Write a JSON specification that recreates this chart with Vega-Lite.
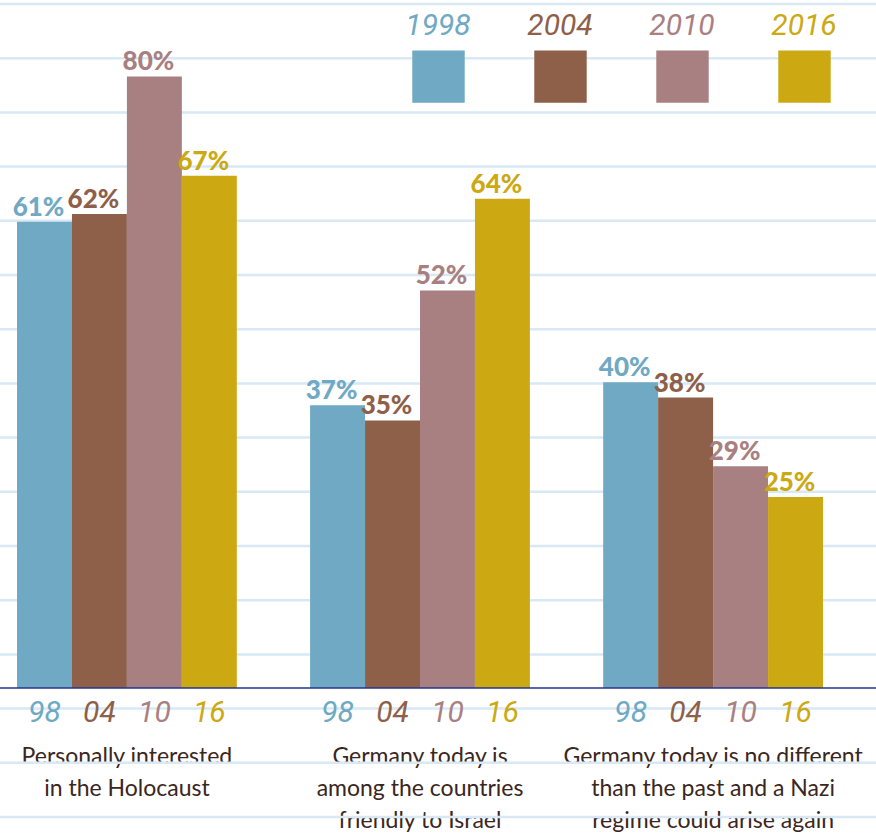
{
  "$schema": "https://vega.github.io/schema/vega-lite/v6.json",
  "width": 876,
  "height": 688,
  "padding": {"left": 0, "right": 0, "top": 0, "bottom": 147},
  "autosize": {"type": "none"},
  "background": "white",
  "config": {"view": {"stroke": null}},
  "datasets": {
    "bars": [
      {"question": "Personally interested|in the Holocaust", "year": "1998", "short": "98", "value": 0.61},
      {"question": "Personally interested|in the Holocaust", "year": "2004", "short": "04", "value": 0.62},
      {"question": "Personally interested|in the Holocaust", "year": "2010", "short": "10", "value": 0.80},
      {"question": "Personally interested|in the Holocaust", "year": "2016", "short": "16", "value": 0.67},
      {"question": "Germany today is|among the countries|friendly to Israel", "year": "1998", "short": "98", "value": 0.37},
      {"question": "Germany today is|among the countries|friendly to Israel", "year": "2004", "short": "04", "value": 0.35},
      {"question": "Germany today is|among the countries|friendly to Israel", "year": "2010", "short": "10", "value": 0.52},
      {"question": "Germany today is|among the countries|friendly to Israel", "year": "2016", "short": "16", "value": 0.64},
      {"question": "Germany today is no different|than the past and a Nazi|regime could arise again", "year": "1998", "short": "98", "value": 0.40},
      {"question": "Germany today is no different|than the past and a Nazi|regime could arise again", "year": "2004", "short": "04", "value": 0.38},
      {"question": "Germany today is no different|than the past and a Nazi|regime could arise again", "year": "2010", "short": "10", "value": 0.29},
      {"question": "Germany today is no different|than the past and a Nazi|regime could arise again", "year": "2016", "short": "16", "value": 0.25}
    ],
    "lines": [
      {"line": 0}, {"line": 1}, {"line": 2}, {"line": 3}, {"line": 4}, {"line": 5}, {"line": 6}, {"line": 7},
      {"line": 8}, {"line": 9}, {"line": 10}, {"line": 11}, {"line": 12}, {"line": 13}, {"line": 14}, {"line": 15}
    ]
  },
  "layer": [
    {
      "data": {"name": "lines"},
      "mark": {"type": "rule", "color": "#d8e8f4", "strokeWidth": 2.5},
      "encoding": {
        "y": {"field": "line", "type": "quantitative", "scale": {"domain": [0, 15], "range": [4, 817]}, "axis": null}
      }
    },
    {
      "data": {"name": "bars"},
      "layer": [
        {
          "mark": {"type": "bar", "opacity": 1},
          "encoding": {
            "x": {
              "field": "question", "type": "nominal", "sort": null,
              "scale": {"type": "band", "range": [17, 823], "paddingInner": 0.25, "paddingOuter": 0},
              "axis": {
                "title": null, "domain": false, "ticks": false, "labelAngle": 0,
                "labelPadding": 57, "labelFont": "Lato", "labelFontSize": 23, "labelColor": "#3a261d",
                "labelLineHeight": 32, "labelLimit": 0, "labelBaseline": "top",
                "labelExpr": "split(datum.label, '|')"
              }
            },
            "xOffset": {"field": "year", "type": "nominal", "scale": {"paddingInner": 0, "paddingOuter": 0}},
            "y": {"field": "value", "type": "quantitative", "scale": {"domain": [0, 0.9]}, "axis": null},
            "color": {
              "field": "year", "type": "nominal",
              "scale": {"domain": ["1998", "2004", "2010", "2016"], "range": ["#6fa9c3", "#8e604a", "#a98081", "#cca913"]},
              "legend": {
                "orient": "none", "legendX": 412, "legendY": 50, "direction": "horizontal", "title": null,
                "symbolType": "square", "symbolSize": 2750, "symbolStrokeWidth": 0, "symbolOpacity": 1,
                "labelFont": "Roboto", "labelFontSize": 30, "labelFontStyle": "italic", "labelFontWeight": 400,
                "labelAlign": "center", "labelBaseline": "middle", "labelOffset": -27, "columnPadding": 56,
                "padding": 0,
                "encode": {"labels": {"update": {"fill": {"scale": "color", "field": "value"}, "dy": {"value": -51}}}}
              }
            }
          }
        },
        {
          "mark": {"type": "text", "font": "Lato", "fontWeight": 900, "fontSize": 26, "baseline": "alphabetic", "dy": -6, "dx": -6},
          "encoding": {
            "x": {"field": "question", "type": "nominal", "sort": null},
            "xOffset": {"field": "year", "type": "nominal"},
            "y": {"field": "value", "type": "quantitative"},
            "text": {"field": "value", "type": "quantitative", "format": ".0%"},
            "color": {"field": "year", "type": "nominal"}
          }
        },
        {
          "mark": {"type": "text", "font": "Roboto", "fontStyle": "italic", "fontWeight": 400, "fontSize": 30, "baseline": "middle", "dy": 25},
          "encoding": {
            "x": {"field": "question", "type": "nominal", "sort": null},
            "xOffset": {"field": "year", "type": "nominal"},
            "y": {"datum": 0, "type": "quantitative"},
            "text": {"field": "short"},
            "color": {"field": "year", "type": "nominal"}
          }
        },
        {
          "data": {"values": [{}]},
          "mark": {"type": "rule", "color": "#26348a", "strokeWidth": 1.6},
          "encoding": {"y": {"datum": 0, "type": "quantitative"}}
        }
      ]
    }
  ],
  "resolve": {"scale": {"y": "independent"}}
}
